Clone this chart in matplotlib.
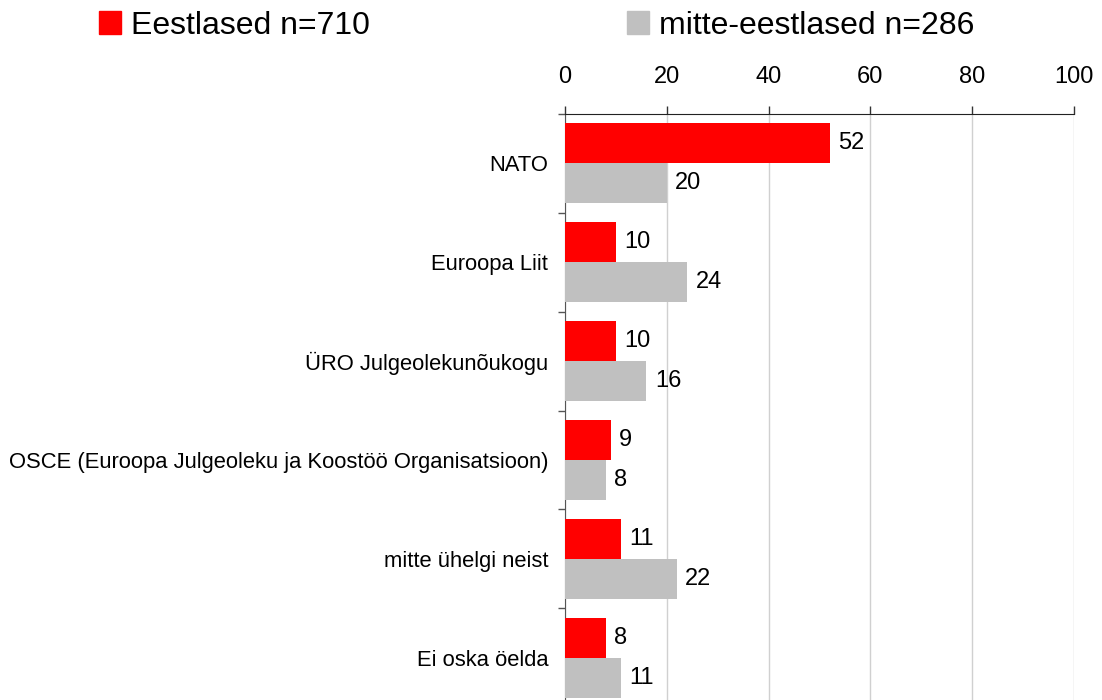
import matplotlib
matplotlib.use('Agg')
import matplotlib.pyplot as plt
from matplotlib.patches import Patch
import numpy as np

plt.rcParams['font.family'] = ['Liberation Sans', 'DejaVu Sans']

RED = '#FF0000'
GRAY = '#C0C0C0'

categories = [
    'NATO',
    'Euroopa Liit',
    'ÜRO Julgeolekunõukogu',
    'OSCE (Euroopa Julgeoleku ja Koostöö Organisatsioon)',
    'mitte ühelgi neist',
    'Ei oska öelda',
]
eestlased = [52, 10, 10, 9, 11, 8]
mitte_eestlased = [20, 24, 16, 8, 22, 11]
series_labels = ['Eestlased n=710', 'mitte-eestlased n=286']

W, H = 1102, 700
fig = plt.figure(figsize=(W / 100, H / 100), dpi=100)
ax = fig.add_axes([565 / W, -7 / H, 509 / W, (700 - 114 + 7) / H])

y = np.arange(len(categories))
bh = 0.405
b1 = ax.barh(y - bh / 2, eestlased, height=bh, color=RED, zorder=3)
b2 = ax.barh(y + bh / 2, mitte_eestlased, height=bh, color=GRAY, zorder=3)

for bars, vals in ((b1, eestlased), (b2, mitte_eestlased)):
    for bar, v in zip(bars, vals):
        ax.annotate(f'{v:.0f}', (bar.get_width(), bar.get_y() + bar.get_height() / 2),
                    xytext=(6, 0), textcoords='offset points',
                    ha='left', va='center', fontsize=17, color='black')

ax.set_xlim(0, 100)
ax.set_ylim(len(categories) - 0.5, -0.5)
ax.xaxis.tick_top()
ax.set_xticks(np.arange(0, 101, 20))
ax.tick_params(axis='x', labelsize=17, length=6, pad=12.5, color='#333333', width=1)
ax.grid(axis='x', color='#D0D0D0', lw=1, zorder=0)

ax.set_yticks(y)
ax.set_yticklabels(categories, fontsize=15.8)
ax.tick_params(axis='y', which='major', length=0, pad=12)
ax.set_yticks(np.arange(len(categories) + 1) - 0.5, minor=True)
ax.tick_params(axis='y', which='minor', length=5, color='#555555', width=1)

for s in ('right', 'bottom'):
    ax.spines[s].set_visible(False)
ax.spines['top'].set_color('#222222')
ax.spines['left'].set_color('#555555')

handles = [Patch(color=RED), Patch(color=GRAY)]
fig.legend(handles, series_labels, loc='upper left', bbox_to_anchor=(86 / W, 1.003),
           ncol=2, frameon=False, fontsize=23, handlelength=0.7, handleheight=0.7,
           handletextpad=0.3, columnspacing=8.05, borderaxespad=0)

fig.savefig('out.png', dpi=100)
